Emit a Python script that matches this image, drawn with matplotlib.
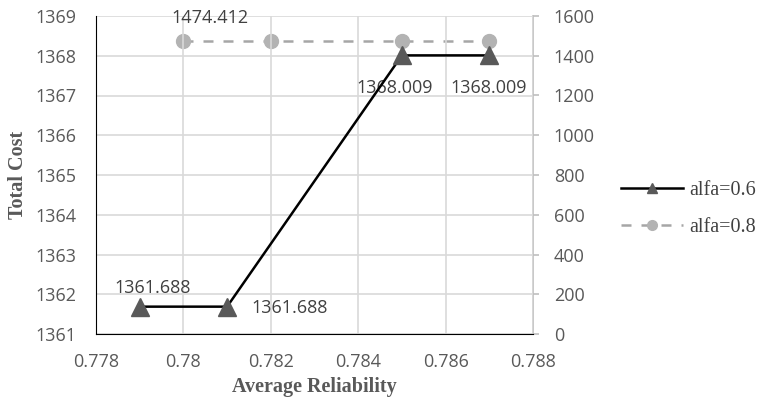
import matplotlib
matplotlib.use("Agg")
import matplotlib.pyplot as plt
from matplotlib.lines import Line2D

x_a06 = [0.779, 0.781, 0.785, 0.787]
cost_a06 = [1361.688, 1361.688, 1368.009, 1368.009]
x_a08 = [0.780, 0.782, 0.785, 0.787]
cost_a08 = [1474.412, 1474.412, 1474.412, 1474.412]
left_ticks = [1361, 1362, 1363, 1364, 1365, 1366, 1367, 1368, 1369]
right_ticks = [0, 200, 400, 600, 800, 1000, 1200, 1400, 1600]
x_ticks = [0.778, 0.780, 0.782, 0.784, 0.786, 0.788]
x_tick_labels = ["0.778", "0.78", "0.782", "0.784", "0.786", "0.788"]

tick_font = "Open Sans"
tick_color = "#595959"
fs = 13

fig = plt.figure(figsize=(7.59, 4.04), dpi=100)
ax = fig.add_axes([96/759, 1 - 334/404, (533-96)/759, (334-16)/404])
ax2 = ax.twinx()

ax.set_xlim(0.778, 0.788)
ax.set_ylim(1361, 1369)
ax2.set_ylim(0, 1600)
ax.set_xticks(x_ticks)
ax.set_xticklabels(x_tick_labels)
ax.set_yticks(left_ticks)
ax2.set_yticks(right_ticks)

ax.grid(True, color="#d9d9d9", linewidth=1.2)
ax.set_axisbelow(True)

for a in (ax, ax2):
    for s in a.spines.values():
        s.set_visible(False)
ax.spines["left"].set_visible(True)
ax.spines["left"].set_color("black")
ax.spines["bottom"].set_visible(True)
ax.spines["bottom"].set_color("black")
ax2.spines["right"].set_visible(True)
ax2.spines["right"].set_color("#bfbfbf")
ax2.spines["right"].set_linewidth(1.2)

ax.tick_params(axis="x", length=0, labelsize=fs, labelcolor=tick_color, pad=14)
ax.tick_params(axis="y", length=0, labelsize=fs, labelcolor=tick_color, pad=14)
ax2.tick_params(axis="y", length=4, color="#bfbfbf", width=1.2, labelsize=fs, labelcolor=tick_color, pad=11)
for lab in ax.get_xticklabels() + ax.get_yticklabels() + ax2.get_yticklabels():
    lab.set_fontfamily(tick_font)

ax2.plot(x_a08, cost_a08, linestyle=(0, (4, 4)), color="#a6a6a6", linewidth=1.8,
         marker="o", markersize=10, markerfacecolor="#b3b3b3", markeredgecolor="#b3b3b3", zorder=3)
ax.plot(x_a06, cost_a06, color="black", linewidth=1.8,
        marker="^", markersize=13, markerfacecolor="#595959", markeredgecolor="#595959", zorder=4)
ax.set_zorder(ax2.get_zorder() + 1)
ax.patch.set_visible(False)

lab_kw = dict(fontsize=fs, color="#404040", fontfamily=tick_font, textcoords="offset pixels")
ax.annotate(f"{cost_a08[0]:.3f}", (x_a08[0], cost_a08[0]), xycoords=ax2.transData,
            xytext=(27, 23), ha="center", va="center", annotation_clip=False, **lab_kw)
ax.annotate(f"{cost_a06[0]:.3f}", (x_a06[0], cost_a06[0]), xytext=(13, 19),
            ha="center", va="center", **lab_kw)
ax.annotate(f"{cost_a06[1]:.3f}", (x_a06[1], cost_a06[1]), xytext=(24, -1),
            ha="left", va="center", **lab_kw)
ax.annotate(f"{cost_a06[2]:.3f}", (x_a06[2], cost_a06[2]), xytext=(-7, -33),
            ha="center", va="center", **lab_kw)
ax.annotate(f"{cost_a06[3]:.3f}", (x_a06[3], cost_a06[3]), xytext=(-1, -33),
            ha="center", va="center", **lab_kw)

ax.set_ylabel("Total Cost", fontfamily="Liberation Serif", fontweight="bold",
              fontsize=14.5, color="#595959", labelpad=5)
ax.set_xlabel("Average Reliability", fontfamily="Liberation Serif", fontweight="bold",
              fontsize=14.5, color="#595959", labelpad=4)

h1 = Line2D([], [], color="black", linewidth=1.8, marker="^", markersize=7,
            markerfacecolor="#595959", markeredgecolor="#595959")
h2 = Line2D([], [], color="#a6a6a6", linewidth=1.8, linestyle=(0, (4, 4)), marker="o", markersize=7,
            markerfacecolor="#b3b3b3", markeredgecolor="#b3b3b3")
fig.legend([h1, h2], ["alfa=0.6", "alfa=0.8"], loc="center left",
           bbox_to_anchor=(621/759, 1 - 209/404), frameon=False,
           borderaxespad=0, borderpad=0,
           prop={"family": "Liberation Serif", "size": 14.5}, handlelength=3.1,
           handletextpad=0.3, labelspacing=0.9, labelcolor="#404040")

fig.savefig("out.png", dpi=100)
